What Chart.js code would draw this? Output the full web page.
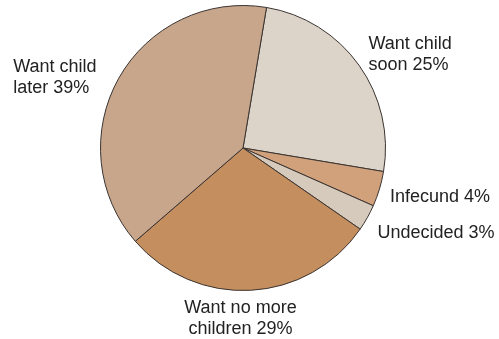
<!doctype html>
<html>

<head>
    <title>Fertility preferences</title>
    <script src="https://cdn.jsdelivr.net/npm/chart.js"></script>
    <style>
        body { margin: 0; background: #fff; }
        #box { width: 499px; height: 339px; }
    </style>
</head>

<body>
    <div id="box">
        <canvas id="grafico"></canvas>
    </div>

    <script>
        // slices, clockwise from the top right
        const categorias = [
            ['Want child', 'soon 25%'],
            ['Infecund 4%'],
            ['Undecided 3%'],
            ['Want no more', 'children 29%'],
            ['Want child', 'later 39%']
        ]
        const percentuais = [25, 4, 3, 29, 39]
        const cores = ['#dcd3c9', '#d1a17c', '#d6cabd', '#c48e5e', '#c8a68c']
        // small hand nudges for the outside labels (px)
        const ajustes = [[-2, -3], [-3, 4], [-2, 8], [-11, -7], [-10, 6]]

        const rotulosFora = {
            id: 'rotulosFora',
            afterDraw(chart) {
                const { ctx } = chart
                const arcs = chart.getDatasetMeta(0).data
                ctx.save()
                ctx.font = '18px "Liberation Sans", Arial, sans-serif'
                ctx.fillStyle = '#222'
                ctx.textBaseline = 'middle'
                const linha = 21
                arcs.forEach((arc, i) => {
                    const meio = (arc.startAngle + arc.endAngle) / 2
                    const r = arc.outerRadius + 14
                    const x = arc.x + Math.cos(meio) * r
                    const y = arc.y + Math.sin(meio) * r
                    const linhas = categorias[i]
                    const larg = Math.max(...linhas.map(t => ctx.measureText(t).width))
                    let x0, y0
                    if (Math.abs(x - arc.x) < 40) {
                        // bottom: centred block below the point
                        ctx.textAlign = 'center'
                        x0 = x
                        y0 = y + linha / 2
                    } else if (x > arc.x) {
                        ctx.textAlign = 'left'
                        x0 = x
                        y0 = y - (linhas.length - 1) * linha / 2
                    } else {
                        ctx.textAlign = 'left'
                        x0 = x - larg
                        y0 = y - (linhas.length - 1) * linha / 2
                    }
                    x0 += ajustes[i][0]
                    y0 += ajustes[i][1]
                    linhas.forEach((t, j) => ctx.fillText(t, x0, y0 + j * linha))
                })
                ctx.restore()
            }
        }

        new Chart(document.getElementById('grafico').getContext('2d'), {
            type: 'pie',
            data: {
                labels: categorias.map(l => l.join(' ')),
                datasets: [{
                    data: percentuais,
                    backgroundColor: cores,
                    borderColor: '#3a3330',
                    borderWidth: 1
                }]
            },
            options: {
                responsive: true,
                maintainAspectRatio: false,
                animation: false,
                rotation: 9.5,
                layout: {
                    padding: { left: 100, right: 113, top: 5, bottom: 48 }
                },
                plugins: {
                    legend: { display: false },
                    tooltip: { enabled: false }
                }
            },
            plugins: [rotulosFora]
        });
    </script>
</body>

</html>
